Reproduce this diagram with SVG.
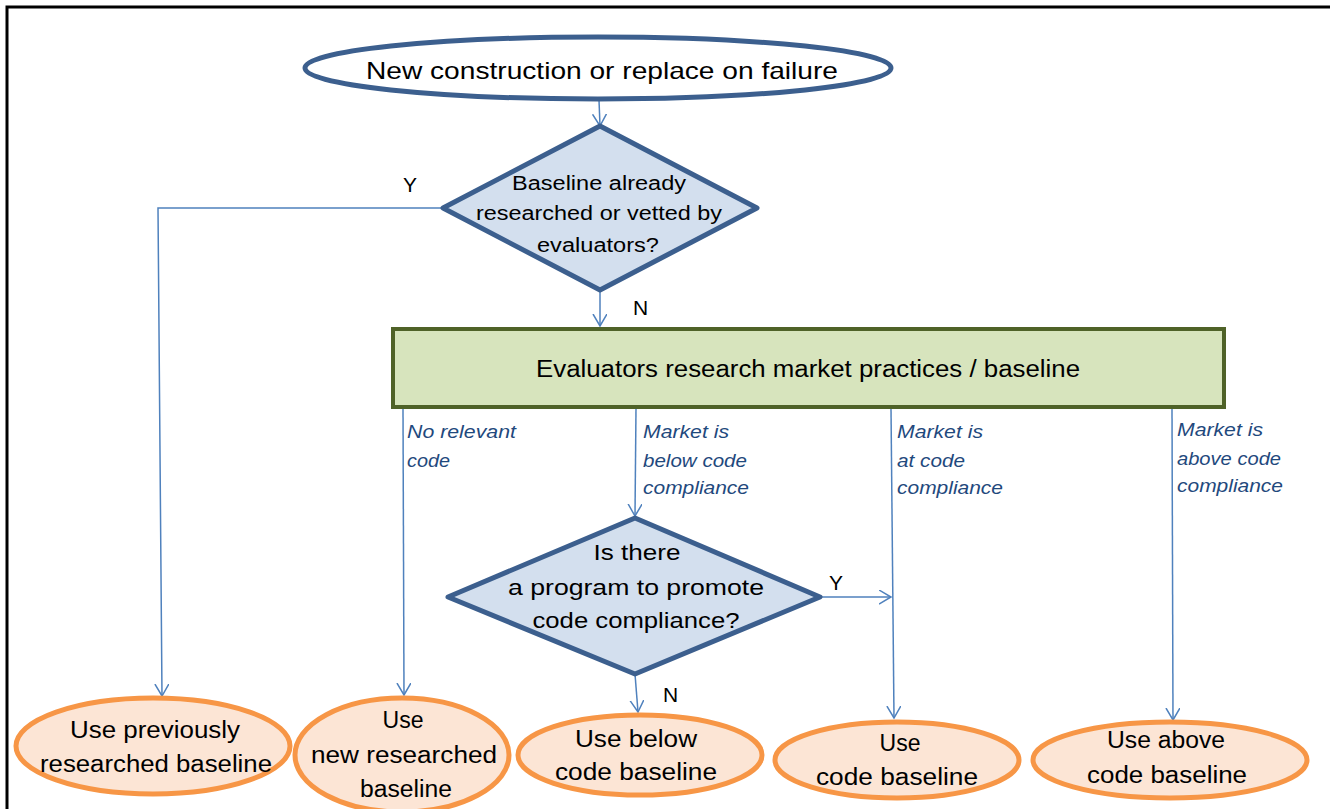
<svg xmlns="http://www.w3.org/2000/svg" width="1330" height="809" viewBox="0 0 1330 809">
<defs>
<marker id="arr" markerUnits="userSpaceOnUse" markerWidth="14" markerHeight="16" refX="12" refY="7" orient="auto">
<path d="M0,0 L12,7 L0,14" fill="none" stroke="#4f81bd" stroke-width="1.5"/>
</marker>
<style>
.t{font-family:"Liberation Sans",Arial,sans-serif;fill:#000;text-anchor:middle}
.lbl{font-family:"Liberation Sans",Arial,sans-serif;font-style:italic;fill:#1f497d;font-size:18px}
.yn{font-family:"Liberation Sans",Arial,sans-serif;fill:#000;font-size:21px}
.con{fill:none;stroke:#4f81bd;stroke-width:1.5}
.dia{fill:#d3dfee;stroke:#3c5f8e;stroke-width:5;stroke-linejoin:round}
.out{fill:#fce5d5;stroke:#f79646;stroke-width:5}
</style>
</defs>
<rect x="0" y="0" width="1330" height="809" fill="#fff"/>
<path d="M7,809 L7,7 L1330,7" fill="none" stroke="#000" stroke-width="3"/>

<g id="connectors">
<path class="con" d="M599,100 L600,126" marker-end="url(#arr)"/>
<path class="con" d="M443,208 L158,208 L162,696" marker-end="url(#arr)"/>
<path class="con" d="M600,290 L600,326" marker-end="url(#arr)"/>
<path class="con" d="M403,408 L404,695" marker-end="url(#arr)"/>
<path class="con" d="M636,408 L635,516" marker-end="url(#arr)"/>
<path class="con" d="M891,408 L894,718" marker-end="url(#arr)"/>
<path class="con" d="M1172,408 L1173,720" marker-end="url(#arr)"/>
<path class="con" d="M820,597 L891,597" marker-end="url(#arr)"/>
<path class="con" d="M635,674 L638,712" marker-end="url(#arr)"/>
<text class="yn" x="403" y="192">Y</text>
<text class="yn" x="633" y="315">N</text>
<text class="yn" x="829" y="590">Y</text>
<text class="yn" x="663" y="702">N</text>
<text class="lbl" x="407" y="438" textLength="109" lengthAdjust="spacingAndGlyphs">No relevant</text>
<text class="lbl" x="407" y="467" textLength="43" lengthAdjust="spacingAndGlyphs">code</text>
<text class="lbl" x="643" y="438" textLength="86" lengthAdjust="spacingAndGlyphs">Market is</text>
<text class="lbl" x="643" y="467" textLength="104" lengthAdjust="spacingAndGlyphs">below code</text>
<text class="lbl" x="643" y="494" textLength="106" lengthAdjust="spacingAndGlyphs">compliance</text>
<text class="lbl" x="897" y="438" textLength="86" lengthAdjust="spacingAndGlyphs">Market is</text>
<text class="lbl" x="897" y="467" textLength="68" lengthAdjust="spacingAndGlyphs">at code</text>
<text class="lbl" x="897" y="494" textLength="106" lengthAdjust="spacingAndGlyphs">compliance</text>
<text class="lbl" x="1177" y="436" textLength="86" lengthAdjust="spacingAndGlyphs">Market is</text>
<text class="lbl" x="1177" y="465" textLength="104" lengthAdjust="spacingAndGlyphs">above code</text>
<text class="lbl" x="1177" y="492" textLength="106" lengthAdjust="spacingAndGlyphs">compliance</text>
</g>

<g id="start">
<ellipse cx="598" cy="68" rx="293" ry="31" fill="#fff" stroke="#3c5f8e" stroke-width="5"/>
<text class="t" x="602" y="79" font-size="24" textLength="472" lengthAdjust="spacingAndGlyphs">New construction or replace on failure</text>
</g>

<g id="decision1">
<polygon class="dia" points="600,126 757,208 600,290 443,208"/>
<text class="t" x="599" y="190" font-size="20" textLength="174" lengthAdjust="spacingAndGlyphs">Baseline already</text>
<text class="t" x="599" y="220" font-size="20" textLength="246" lengthAdjust="spacingAndGlyphs">researched or vetted by</text>
<text class="t" x="598" y="252" font-size="20" textLength="122" lengthAdjust="spacingAndGlyphs">evaluators?</text>
</g>

<g id="research">
<rect x="393" y="329" width="831" height="78" fill="#d7e4bd" stroke="#4f6228" stroke-width="4"/>
<text class="t" x="808" y="377" font-size="23" textLength="544" lengthAdjust="spacingAndGlyphs">Evaluators research market practices / baseline</text>
</g>

<g id="decision2">
<polygon class="dia" points="635,518 820,597 635,674 448,597"/>
<text class="t" x="637" y="560" font-size="22" textLength="87" lengthAdjust="spacingAndGlyphs">Is there</text>
<text class="t" x="636" y="595" font-size="22" textLength="256" lengthAdjust="spacingAndGlyphs">a program to promote</text>
<text class="t" x="636" y="628" font-size="22" textLength="207" lengthAdjust="spacingAndGlyphs">code compliance?</text>
</g>

<g id="out1">
<ellipse class="out" cx="153" cy="746" rx="137" ry="48"/>
<text class="t" x="155" y="738" font-size="23" textLength="170" lengthAdjust="spacingAndGlyphs">Use previously</text>
<text class="t" x="156" y="772" font-size="23" textLength="232" lengthAdjust="spacingAndGlyphs">researched baseline</text>
</g>

<g id="out2">
<ellipse class="out" cx="402" cy="755" rx="107" ry="57"/>
<text class="t" x="403" y="728" font-size="23" textLength="41" lengthAdjust="spacingAndGlyphs">Use</text>
<text class="t" x="404" y="763" font-size="23" textLength="186" lengthAdjust="spacingAndGlyphs">new researched</text>
<text class="t" x="406" y="797" font-size="23" textLength="92" lengthAdjust="spacingAndGlyphs">baseline</text>
</g>

<g id="out3">
<ellipse class="out" cx="640" cy="755" rx="122" ry="40"/>
<text class="t" x="636" y="747" font-size="23" textLength="122" lengthAdjust="spacingAndGlyphs">Use below</text>
<text class="t" x="636" y="780" font-size="23" textLength="162" lengthAdjust="spacingAndGlyphs">code baseline</text>
</g>

<g id="out4">
<ellipse class="out" cx="897" cy="760" rx="122" ry="38"/>
<text class="t" x="900" y="751" font-size="23" textLength="41" lengthAdjust="spacingAndGlyphs">Use</text>
<text class="t" x="897" y="785" font-size="23" textLength="162" lengthAdjust="spacingAndGlyphs">code baseline</text>
</g>

<g id="out5">
<ellipse class="out" cx="1170" cy="760" rx="137" ry="38"/>
<text class="t" x="1166" y="748" font-size="23" textLength="118" lengthAdjust="spacingAndGlyphs">Use above</text>
<text class="t" x="1167" y="783" font-size="23" textLength="160" lengthAdjust="spacingAndGlyphs">code baseline</text>
</g>
</svg>
